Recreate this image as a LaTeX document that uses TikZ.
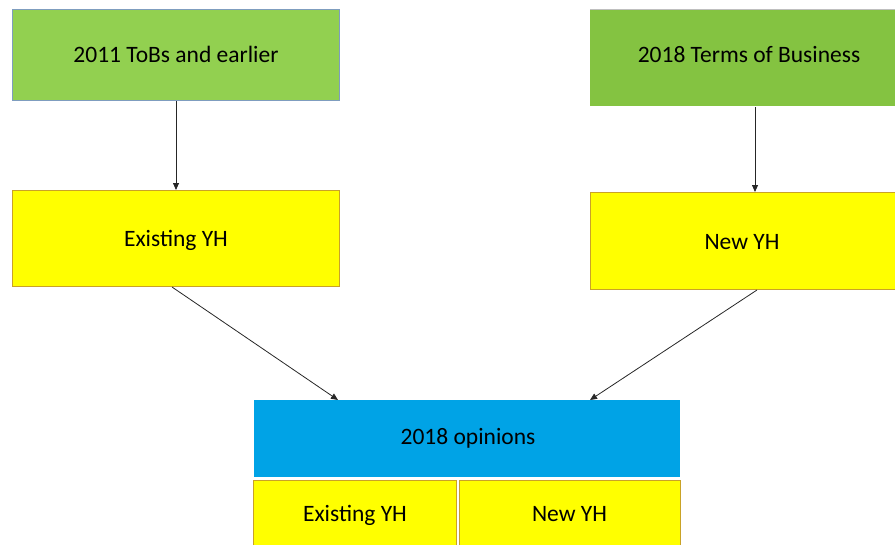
\documentclass[tikz,border=0pt]{standalone}
\usepackage{fontspec}
\setmainfont{Carlito}
\usetikzlibrary{arrows.meta}
\definecolor{greenA}{HTML}{92D050}
\definecolor{greenB}{HTML}{84C341}
\definecolor{borderA}{HTML}{7F9DBF}
\definecolor{yell}{HTML}{FFFF00}
\definecolor{yellb}{HTML}{C9A227}
\definecolor{blueE}{HTML}{00A3E6}
\begin{document}
\begin{tikzpicture}[x=1pt,y=-1pt,
  box/.style={draw=none,inner sep=0pt,font=\fontsize{23.5}{27}\selectfont,text=black},
  conn/.style={draw=black!85,line width=0.8pt,-{Triangle[length=7pt,width=6pt]}}]
\useasboundingbox (0,0) rectangle (895,544);
\begin{scope}
\clip (0,0) rectangle (895,544);
\draw[fill=greenA,draw=borderA,line width=0.8pt] (12,9) rectangle (339,100);
\node[box] (a) at (176,54.5) {2011 ToBs and earlier};
\fill[greenB] (590,9) rectangle (895,106);
\draw[black!25,line width=0.6pt] (590,9) -- (895,9);
\node[box] (b) at (749,54) {2018 Terms of Business};
\draw[fill=yell,draw=yellb,line width=0.8pt] (12,190) rectangle (339,286);
\node[box] (c) at (176,240) {Existing YH};
\draw[fill=yell,draw=yellb,line width=0.8pt] (590,192) rectangle (896,289);
\node[box] (d) at (742,242) {New YH};
\fill[blueE] (254,400) rectangle (680,477);
\node[box] (e) at (468,438) {2018 opinions};
\draw[fill=yell,draw=yellb,line width=0.8pt] (253,480) rectangle (456,546);
\node[box] (f) at (355,515) {Existing YH};
\draw[fill=yell,draw=yellb,line width=0.8pt] (459,480) rectangle (680,546);
\node[box] (g) at (569.5,514) {New YH};
\coordinate (a1) at (176,101);
\coordinate (c0) at (176,190);
\coordinate (b1) at (755,107);
\coordinate (d0) at (755,192);
\coordinate (c1) at (172,287);
\coordinate (e0) at (338,400);
\coordinate (d1) at (757,290);
\coordinate (e1) at (590,400);
\draw[conn] (a1) -- (c0);
\draw[conn] (b1) -- (d0);
\draw[conn] (c1) -- (e0);
\draw[conn] (d1) -- (e1);
\end{scope}
\end{tikzpicture}
\end{document}
